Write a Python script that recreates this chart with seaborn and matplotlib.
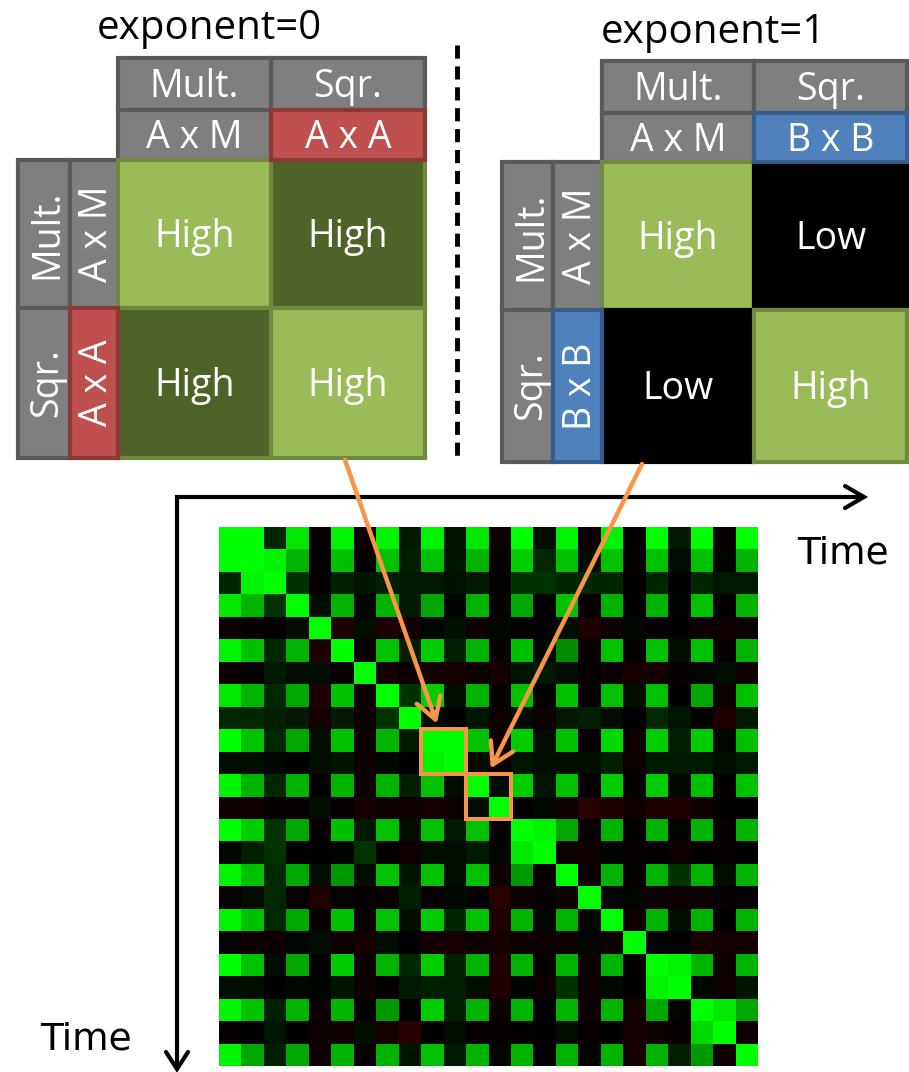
import numpy as np
import matplotlib
matplotlib.use("Agg")
import matplotlib.pyplot as plt
import seaborn as sns
from matplotlib.patches import Rectangle, ConnectionPatch, ArrowStyle
from matplotlib.colors import LinearSegmentedColormap

# Correlation between time steps (rows/cols = time index)
corr = [
    [1.0, 1.0, 0.15, 0.9, -0.02, 0.95, -0.05, 0.95, 0.1, 0.95, 0.08, 0.9, -0.05, 1.0, 0.05, 0.95, -0.05, 0.95, -0.02, 1.0, 0.1, 1.0, -0.03, 1.0],
    [1.0, 1.0, 0.95, 0.7, -0.02, 0.75, 0.0, 0.75, 0.12, 0.75, 0.08, 0.7, -0.03, 0.8, 0.15, 0.75, 0.05, 0.75, -0.03, 0.75, 0.05, 0.75, 0.02, 0.7],
    [0.15, 0.95, 1.0, 0.2, -0.02, 0.12, 0.08, 0.12, 0.1, 0.1, 0.07, 0.1, 0.0, 0.2, 0.2, 0.15, 0.15, 0.15, -0.02, 0.15, 0.0, 0.15, 0.1, 0.1],
    [0.9, 0.7, 0.2, 1.0, 0.05, 0.7, 0.03, 0.7, 0.1, 0.65, 0.02, 0.7, -0.03, 0.65, -0.02, 0.75, -0.03, 0.7, 0.0, 0.7, 0.02, 0.75, 0.0, 0.7],
    [-0.05, -0.03, -0.02, 0.05, 1.0, -0.12, 0.05, -0.12, -0.08, 0.03, 0.07, -0.05, 0.03, -0.02, 0.0, 0.05, -0.12, -0.05, 0.03, -0.02, 0.0, -0.05, -0.05, -0.05],
    [0.95, 0.75, 0.15, 0.7, -0.12, 1.0, -0.03, 0.75, 0.12, 0.8, 0.12, 0.7, -0.03, 0.75, 0.03, 0.55, -0.03, 0.75, -0.03, 0.75, 0.05, 0.75, -0.03, 0.7],
    [-0.05, 0.0, 0.1, 0.05, 0.05, -0.03, 1.0, -0.08, -0.05, -0.08, -0.08, -0.05, -0.08, 0.08, 0.1, 0.05, -0.03, -0.05, -0.08, -0.08, -0.03, 0.02, 0.05, -0.05],
    [0.9, 0.7, 0.15, 0.65, -0.12, 0.75, -0.05, 1.0, 0.2, 0.8, 0.05, 0.7, -0.03, 0.75, 0.0, 0.75, 0.0, 0.75, 0.05, 0.75, 0.0, 0.65, -0.05, 0.75],
    [0.15, 0.15, 0.12, 0.1, -0.08, 0.1, -0.05, 0.2, 1.0, 0.05, 0.0, 0.08, -0.05, 0.05, -0.05, 0.1, 0.12, 0.05, 0.0, 0.15, 0.08, -0.02, -0.12, 0.1],
    [1.0, 0.75, 0.15, 0.65, 0.05, 0.75, -0.05, 0.7, 0.1, 1.0, 1.0, 0.75, -0.05, 0.8, 0.05, 0.75, -0.03, 0.85, -0.05, 0.8, 0.12, 0.8, 0.03, 0.75],
    [0.05, 0.05, 0.03, 0.0, 0.05, 0.08, -0.05, 0.03, 0.0, 0.95, 1.0, 0.05, -0.05, 0.08, 0.05, 0.05, 0.05, 0.12, -0.05, 0.1, 0.1, 0.1, 0.05, 0.1],
    [0.95, 0.7, 0.15, 0.7, 0.0, 0.7, -0.05, 0.7, 0.12, 0.75, 0.05, 1.0, 0.05, 0.8, 0.08, 0.75, 0.0, 0.8, -0.03, 0.8, 0.03, 0.75, -0.02, 0.75],
    [-0.05, -0.05, -0.02, -0.03, 0.05, -0.03, -0.08, -0.05, -0.05, -0.08, -0.05, 0.05, 1.0, -0.02, 0.03, -0.05, -0.15, -0.12, -0.05, -0.12, -0.12, -0.05, -0.02, 0.0],
    [1.0, 0.8, 0.2, 0.65, -0.02, 0.75, 0.1, 0.75, 0.05, 0.75, 0.1, 0.75, -0.02, 1.0, 0.95, 0.65, -0.03, 0.7, -0.02, 0.7, 0.02, 0.7, -0.03, 0.7],
    [0.03, 0.12, 0.2, -0.02, 0.0, 0.02, 0.2, -0.02, -0.05, 0.05, 0.05, 0.1, 0.02, 0.9, 1.0, -0.05, -0.05, 0.02, -0.03, -0.02, -0.05, -0.02, -0.03, 0.0],
    [0.95, 0.75, 0.15, 0.65, 0.05, 0.6, 0.05, 0.75, 0.08, 0.75, 0.05, 0.75, -0.05, 0.6, -0.03, 1.0, -0.05, 0.7, -0.03, 0.7, 0.2, 0.7, 0.05, 0.7],
    [-0.03, 0.05, 0.15, -0.02, -0.12, -0.02, -0.02, -0.02, 0.12, -0.02, 0.03, -0.02, -0.15, -0.05, -0.03, -0.05, 1.0, 0.03, 0.02, -0.05, -0.05, -0.05, -0.03, 0.0],
    [0.95, 0.75, 0.15, 0.65, -0.03, 0.75, -0.03, 0.75, 0.05, 0.8, 0.15, 0.75, -0.12, 0.7, 0.02, 0.7, 0.03, 1.0, -0.05, 0.7, 0.05, 0.7, 0.0, 0.7],
    [0.0, -0.05, -0.05, 0.02, 0.05, -0.05, -0.08, 0.05, 0.0, -0.08, -0.08, -0.05, -0.08, -0.05, -0.05, -0.05, 0.02, -0.05, 1.0, 0.0, 0.0, -0.1, -0.08, -0.08],
    [1.0, 0.75, 0.05, 0.65, 0.0, 0.8, -0.05, 0.7, 0.15, 0.8, 0.12, 0.7, -0.12, 0.7, -0.02, 0.7, -0.05, 0.7, 0.0, 1.0, 0.95, 0.7, -0.05, 0.7],
    [0.05, 0.05, -0.02, 0.03, 0.02, 0.08, -0.05, -0.02, 0.1, 0.12, 0.12, 0.05, -0.12, 0.02, -0.05, 0.2, -0.05, 0.03, 0.0, 0.95, 1.0, 0.03, -0.05, 0.08],
    [0.95, 0.75, 0.12, 0.7, -0.05, 0.7, 0.0, 0.6, 0.0, 0.8, 0.12, 0.7, -0.05, 0.7, 0.0, 0.7, -0.05, 0.7, -0.08, 0.65, 0.02, 1.0, 0.9, 0.65],
    [-0.03, 0.0, 0.08, 0.0, -0.05, -0.05, 0.05, -0.08, -0.15, 0.0, 0.05, -0.03, -0.03, -0.02, 0.0, 0.05, -0.03, 0.0, -0.08, -0.05, -0.03, 0.85, 1.0, -0.05],
    [0.95, 0.65, 0.12, 0.65, -0.05, 0.7, -0.03, 0.7, 0.08, 0.75, 0.1, 0.7, 0.02, 0.7, 0.0, 0.7, 0.02, 0.7, -0.08, 0.7, 0.12, 0.6, -0.05, 1.0],
]

# Highlighted 2x2 blocks on the diagonal: (first time index, block size)
highlight_blocks = [(9, 2), (11, 2)]

# Schematic panels
panel_titles = ["exponent=0", "exponent=1"]
op_labels = ["Mult.", "Sqr."]
pair_labels = [["A x M", "A x A"], ["A x M", "B x B"]]
cell_labels = [[["High", "High"], ["High", "High"]],
               [["High", "Low"], ["Low", "High"]]]
axis_label = "Time"

ORANGE = "#F79646"
GRAY, GRAY_EDGE = "#7F7F7F", "#595959"
LIGHT_G, DARK_G, G_EDGE = "#9BBB59", "#4F6228", "#71893F"
KEY_COLORS = [("#C0504D", "#8C3836"), ("#4F81BD", "#385D8A")]

sns.set_theme(style="white")
plt.rcParams["font.family"] = ["Open Sans", "DejaVu Sans"]
plt.rcParams["text.color"] = "black"

W, H = 909, 1072
fig = plt.figure(figsize=(W / 100, H / 100), dpi=100)

# ---- heatmap ----
axh = fig.add_axes([219 / W, 1 - 1066 / H, 539 / W, 539 / H])
cmap = LinearSegmentedColormap.from_list("red_black_green", ["#ff0000", "#000000", "#00ff00"])
sns.heatmap(np.array(corr), ax=axh, cmap=cmap, vmin=-1, vmax=1, cbar=False,
            xticklabels=False, yticklabels=False, linewidths=0)
for start, size in highlight_blocks:
    axh.add_patch(Rectangle((start, start), size, size, fill=False, ec=ORANGE,
                            lw=2.9, clip_on=False, zorder=5))

# ---- overlay in pixel coordinates ----
ov = fig.add_axes([0, 0, 1, 1], facecolor="none")
ov.set_xlim(0, W)
ov.set_ylim(H, 0)
ov.set_axis_off()
ov.set_zorder(3)

PX = 100 / 72  # pixels per point
HEAD_FS, CELL_FS = 27, 27


def label(x, yc, s, size, color="white", rot=0, cap=0.714):
    off = cap * size * PX / 2
    if rot == 0:
        ov.text(x, yc + off, s, fontsize=size, color=color, ha="center", va="baseline")
    else:
        ov.text(x + off, yc, s, fontsize=size, color=color, rotation=90,
                rotation_mode="anchor", ha="center", va="baseline")


def box(x0, y0, x1, y1, fc, ec, lw=3.0):
    ov.add_patch(Rectangle((x0, y0), x1 - x0, y1 - y0, fc=fc, ec=ec, lw=lw,
                           joinstyle="miter"))


def panel(k, xe, ye):
    key_fc, key_ec = KEY_COLORS[k]
    # top header
    for j in range(2):
        box(xe[2 + j], ye[0], xe[3 + j], ye[1], GRAY, GRAY_EDGE)
        label((xe[2 + j] + xe[3 + j]) / 2, (ye[0] + ye[1]) / 2, op_labels[j], HEAD_FS)
    box(xe[2], ye[1], xe[3], ye[2], GRAY, GRAY_EDGE)
    label((xe[2] + xe[3]) / 2, (ye[1] + ye[2]) / 2, pair_labels[k][0], HEAD_FS)
    # side header
    for i in range(2):
        box(xe[0], ye[2 + i], xe[1], ye[3 + i], GRAY, GRAY_EDGE)
        label((xe[0] + xe[1]) / 2, (ye[2 + i] + ye[3 + i]) / 2, op_labels[i], HEAD_FS, rot=90)
    box(xe[1], ye[2], xe[2], ye[3], GRAY, GRAY_EDGE)
    label((xe[1] + xe[2]) / 2, (ye[2] + ye[3]) / 2, pair_labels[k][0], HEAD_FS, rot=90)
    # main cells
    for i in range(2):
        for j in range(2):
            txt = cell_labels[k][i][j]
            if txt == "Low":
                fc, ec = "black", "black"
            else:
                fc, ec = (LIGHT_G if i == j else DARK_G), G_EDGE
            box(xe[2 + j], ye[2 + i], xe[3 + j], ye[3 + i], fc, ec)
            label((xe[2 + j] + xe[3 + j]) / 2, (ye[2 + i] + ye[3 + i]) / 2, txt, CELL_FS)
    # highlighted key boxes
    box(xe[3], ye[1], xe[4], ye[2], key_fc, key_ec)
    label((xe[3] + xe[4]) / 2, (ye[1] + ye[2]) / 2, pair_labels[k][1], HEAD_FS)
    box(xe[1], ye[3], xe[2], ye[4], key_fc, key_ec)
    label((xe[1] + xe[2]) / 2, (ye[3] + ye[4]) / 2, pair_labels[k][1], HEAD_FS, rot=90)


panel(0, [18, 70, 118, 271, 425], [58, 110, 160, 308, 458])
panel(1, [502, 553, 602, 754, 907], [61, 113, 162, 310, 462])

ov.text(209, 39, panel_titles[0], fontsize=29, color="black", ha="center", va="baseline")
ov.text(713, 43, panel_titles[1], fontsize=29, color="black", ha="center", va="baseline")

# dashed separator
ov.plot([457, 457], [45, 460], color="black", lw=3.5, dashes=(2.7, 1.6))

# time axes
ov.plot([862, 177, 177], [497, 497, 1068], color="black", lw=3.0,
        solid_joinstyle="miter", solid_capstyle="butt")
ov.plot([845, 864, 845], [486, 497, 508], color="black", lw=3.0, solid_joinstyle="miter")
ov.plot([166, 177, 188], [1052, 1069, 1052], color="black", lw=3.0, solid_joinstyle="miter")
ov.text(797, 563, axis_label, fontsize=27, family="DejaVu Sans", color="black",
        ha="left", va="baseline")
ov.text(40, 1050, axis_label, fontsize=27, family="DejaVu Sans", color="black",
        ha="left", va="baseline")

# arrows from schematic panels to the highlighted blocks
arrow_style = ArrowStyle("->", head_length=0.5, head_width=0.3)
for (xa, ya), (cx, cy) in [((345, 460), (9.7, 8.75)), ((642, 464), (12.1, 10.75))]:
    con = ConnectionPatch(xyA=(xa, ya), coordsA=ov.transData, xyB=(cx, cy),
                          coordsB=axh.transData, arrowstyle=arrow_style,
                          mutation_scale=30, lw=3.2, color=ORANGE, zorder=10,
                          capstyle="round", joinstyle="round")
    fig.add_artist(con)

fig.savefig("out.png", dpi=100)
